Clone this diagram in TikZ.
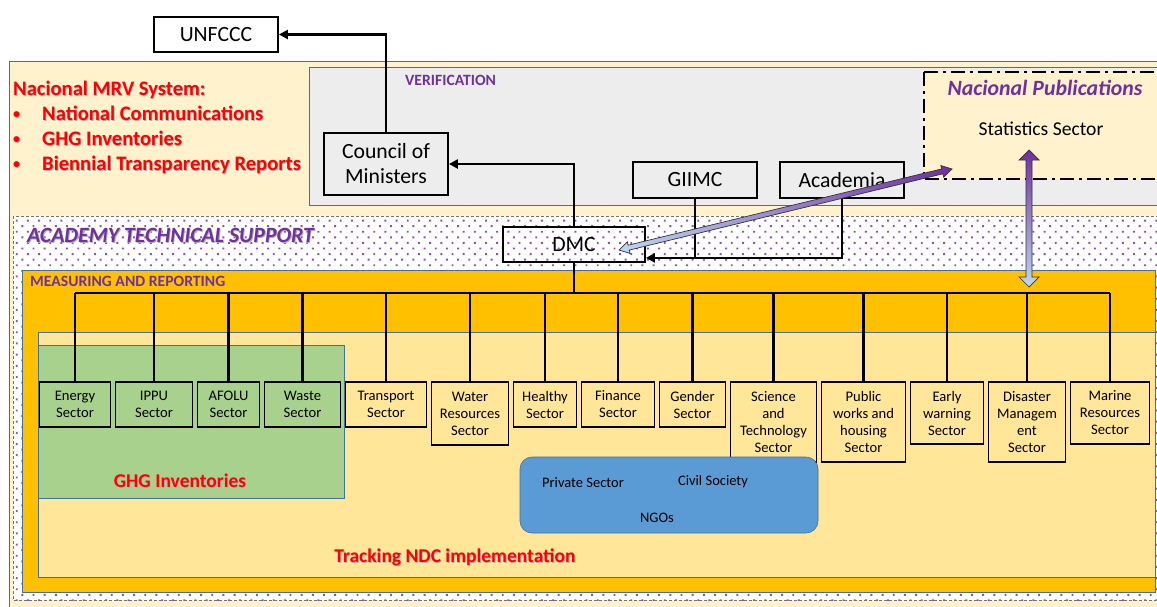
\documentclass[tikz,border=0pt]{standalone}
\usepackage{fontspec}
\setmainfont{Carlito}
\usetikzlibrary{positioning,calc,arrows.meta,patterns.meta}

\definecolor{npurple}{HTML}{7030A0}
\definecolor{nred}{HTML}{FF0000}
\definecolor{bandyellow}{HTML}{FFF2CC}
\definecolor{ndcyellow}{HTML}{FFE699}
\definecolor{mrorange}{HTML}{FFC000}
\definecolor{ghggreen}{HTML}{A9D18E}
\definecolor{ngoblue}{HTML}{5B9BD5}
\definecolor{verigrey}{HTML}{EDEDED}
\definecolor{edgeblue}{HTML}{41719C}
\definecolor{pubblue}{HTML}{BDD7EE}
\definecolor{dotpurple}{HTML}{9150B8}

\newcommand\shadowed[2]{\leavevmode\rlap{\kern0.9pt\raisebox{-0.9pt}{\color{black!30}#2}}{\color{#1}#2}}
\newcommand\redbullet{\makebox[29pt][l]{\raisebox{1.5pt}{\fontsize{14}{14}\selectfont\shadowed{nred}{•}}}}

% from, to, shading, shaft, head, tip length
\newcommand\gradarrow[6]{%
  \coordinate (#1-h) at ($(#1)!#6!(#2)$);
  \coordinate (#2-h) at ($(#2)!#6!(#1)$);
  \shadedraw[#3, draw=black!80, line width=0.7pt]
    (#1) -- ($(#1-h)!#5!90:(#2)$) -- ($(#1-h)!#4!90:(#2)$)
    -- ($(#2-h)!#4!-90:(#1)$) -- ($(#2-h)!#5!-90:(#1)$) -- (#2)
    -- ($(#2-h)!#5!90:(#1)$) -- ($(#2-h)!#4!90:(#1)$)
    -- ($(#1-h)!#4!-90:(#2)$) -- ($(#1-h)!#5!-90:(#2)$) -- cycle;}

\tikzset{
  area/.style={draw=edgeblue, line width=0.6pt},
  pubframe/.style={draw=black, line width=2.6pt, dash pattern=on 14pt off 5pt on 3pt off 5pt},
  atsframe/.style={draw=black!55, line width=0.7pt, dash pattern=on 3pt off 2pt},
  govbox/.style={draw, line width=1.8pt, align=center, inner sep=1pt,
    font=\fontsize{21.7}{25}\selectfont},
  sectorbox/.style={draw, line width=1.8pt, align=center, inner sep=1pt, outer sep=0pt,
    anchor=north west, minimum height=45pt, font=\fontsize{14.6}{17}\selectfont},
  ngobox/.style={draw=edgeblue, line width=0.6pt, fill=ngoblue, rounded corners=12pt},
  ngotext/.style={inner sep=0pt, font=\fontsize{14.5}{17}\selectfont},
  smallhead/.style={inner sep=0pt, text=npurple, font=\fontsize{15.7}{18}\selectfont\bfseries},
  bighead/.style={inner sep=0pt, font=\fontsize{21.8}{26}\selectfont\bfseries\itshape},
  redhead/.style={inner sep=0pt, font=\fontsize{19.5}{24.7}\selectfont\bfseries},
  tree/.style={line width=2.6pt},
  feed/.style={tree, -{Triangle[length=9pt, width=9pt]}},
}

\begin{document}
\begin{tikzpicture}[x=1pt, y=-1pt]
\useasboundingbox (0,0) rectangle (1157,606);

\draw[area, fill=bandyellow] (9,61) rectangle (1170,615);
\draw[area, fill=verigrey] (309,67) rectangle (1170,205);
\draw[pubframe, fill=bandyellow] (924,72) rectangle (1175,179);
\draw[atsframe, preaction={fill=white}, pattern={Dots[distance=7.9pt, radius=1.35pt, angle=45]},
  pattern color=dotpurple] (13,216) rectangle (1157,600);
\draw[area, fill=mrorange] (22,270) rectangle (1155,592);
\draw[area, fill=ndcyellow] (38,332) rectangle (1155,577);
\draw[area, fill=ghggreen] (38,345) rectangle (344,498);

\node[smallhead, anchor=west] (veri) at (405,80) {VERIFICATION};
\node[redhead, font=\fontsize{20.6}{25}\selectfont\bfseries, anchor=west, align=left] (mrv) at (13,127.5) {%
  \shadowed{nred}{Nacional MRV System:}\\
  \redbullet\shadowed{nred}{National Communications}\\
  \redbullet\shadowed{nred}{GHG Inventories}\\
  \redbullet\shadowed{nred}{Biennial Transparency Reports}};
\node[bighead, text=npurple] (pub) at (1045,88) {Nacional Publications};
\node[inner sep=0pt, font=\fontsize{19.6}{22}\selectfont] (stat) at (1041,129) {Statistics Sector};
\node[bighead, anchor=west] (ats) at (27,236) {\shadowed{npurple}{ACADEMY TECHNICAL SUPPORT}};
\node[smallhead, anchor=west] (mr) at (30,281) {MEASURING AND REPORTING};
\node[redhead] (ghg) at (180,481) {\shadowed{nred}{GHG Inventories}};
\node[redhead] (ndc) at (455,558) {\shadowed{nred}{Tracking NDC implementation}};

\node[govbox, minimum width=124pt, minimum height=35pt] (unfccc) at (216,34.5) {UNFCCC};
\node[govbox, minimum width=124pt, minimum height=62pt] (council) at (386,164) {Council of\\Ministers};
\node[govbox, minimum width=124pt, minimum height=36pt] (giimc) at (695,180) {GIIMC};
\node[govbox, minimum width=124pt, minimum height=36pt] (academia) at (842,180) {Academia};
\node[govbox, minimum width=142pt, minimum height=35pt] (dmc) at (574,244.5) {DMC};

\node[sectorbox, minimum width=71pt] (energy) at (39.5,382) {Energy\\Sector};
\node[sectorbox, minimum width=77pt, right=5pt of energy.north east, anchor=north west] (ippu) {IPPU\\Sector};
\node[sectorbox, minimum width=62pt, right=5pt of ippu.north east, anchor=north west] (afolu) {AFOLU\\Sector};
\node[sectorbox, minimum width=76pt, right=5pt of afolu.north east, anchor=north west] (waste) {Waste\\Sector};
\node[sectorbox, minimum width=81pt, right=5pt of waste.north east, anchor=north west] (transport) {Transport\\Sector};
\node[sectorbox, minimum width=77pt, minimum height=63pt, right=5pt of transport.north east, anchor=north west] (water) {Water\\Resources\\Sector};
\node[sectorbox, minimum width=63pt, right=5pt of water.north east, anchor=north west] (healthy) {Healthy\\Sector};
\node[sectorbox, minimum width=73pt, right=5pt of healthy.north east, anchor=north west] (finance) {Finance\\Sector};
\node[sectorbox, minimum width=66pt, right=5pt of finance.north east, anchor=north west] (gender) {Gender\\Sector};
\node[sectorbox, minimum width=86pt, minimum height=80pt, right=5pt of gender.north east, anchor=north west] (science) {Science\\and\\Technology\\Sector};
\node[sectorbox, minimum width=84pt, minimum height=80pt, right=5pt of science.north east, anchor=north west] (public) {Public\\works and\\housing\\Sector};
\node[sectorbox, minimum width=73pt, minimum height=62pt, right=5pt of public.north east, anchor=north west] (early) {Early\\warning\\Sector};
\node[sectorbox, minimum width=77pt, minimum height=80pt, right=5pt of early.north east, anchor=north west] (disaster) {Disaster\\Managem\\ent\\Sector};
\node[sectorbox, minimum width=79pt, minimum height=62pt, right=5pt of disaster.north east, anchor=north west] (marine) {Marine\\Resources\\Sector};

\node[ngobox, minimum width=298pt, minimum height=76pt] (ngo) at (669,495) {};
\node[ngotext] (private) at (583,483) {Private Sector};
\node[ngotext] (civil) at (713,482) {Civil Society};
\node[ngotext] (ngos) at (657,518) {NGOs};

\coordinate (bus) at (576,293);
\draw[tree] (dmc.south) -- (dmc.south |- bus);
\draw[tree] (energy.north |- bus) -- (marine.north |- bus);
\foreach \s in {energy,ippu,afolu,waste,transport,water,healthy,finance,gender,science,public,early,disaster,marine}
  \draw[tree] (\s.north) -- (\s.north |- bus);

\draw[feed] (council.north) |- (unfccc.east);
\draw[feed] (dmc.north) |- (council.east);
\coordinate (dmc-in) at ($(dmc.south east)+(0,-5)$);
\draw[tree] (giimc.south) -- (giimc.south |- dmc-in);
\draw[feed] (academia.south) |- (dmc-in);

\coordinate (dmc-a) at (619,250);
\coordinate (pub-a) at (952,169);
\gradarrow{dmc-a}{pub-a}{left color=pubblue, right color=npurple}{2.5pt}{6pt}{10pt}
\coordinate (stat-a) at (1029,150);
\coordinate (mr-a) at (1029,287);
\gradarrow{stat-a}{mr-a}{top color=npurple, bottom color=pubblue}{3pt}{10pt}{10pt}
\end{tikzpicture}
\end{document}
